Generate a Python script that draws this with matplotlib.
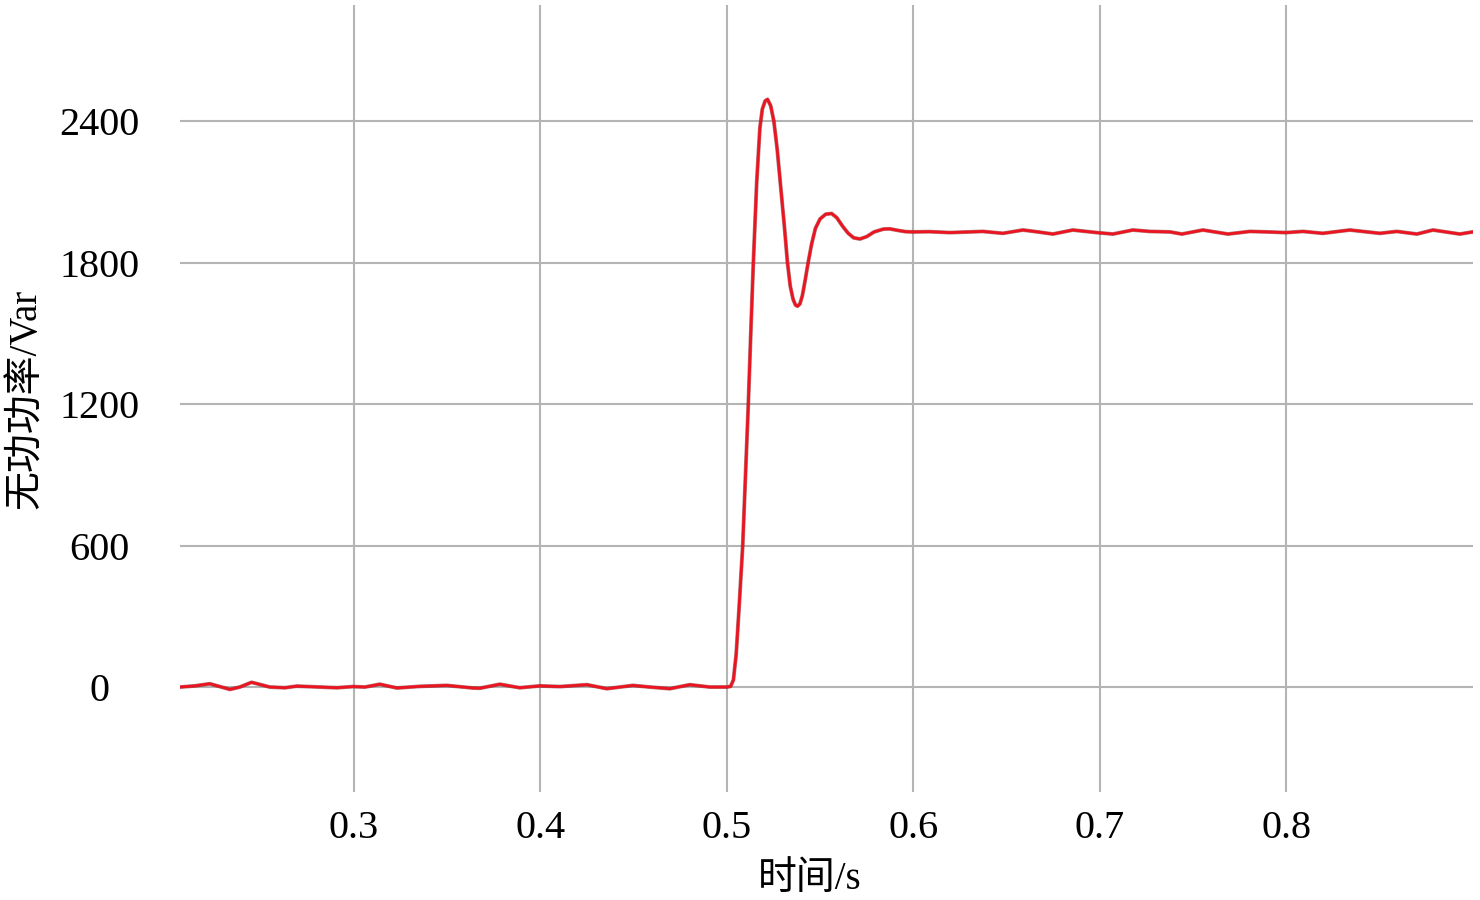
import matplotlib
matplotlib.use('Agg')
import matplotlib.pyplot as plt

plt.rcParams['font.family'] = ['Liberation Serif', 'Noto Sans CJK SC']

# 时间 (s) 与 无功功率 (Var)
t_before = [0.2066, 0.2146, 0.2226, 0.2280, 0.2334, 0.2387, 0.2450, 0.2505,
            0.2548, 0.2629, 0.2693, 0.2816, 0.2908, 0.2994, 0.3058, 0.3138,
            0.3230, 0.3353, 0.3498, 0.3637, 0.3675, 0.3782, 0.3889, 0.3997,
            0.4104, 0.4249, 0.4356, 0.4496, 0.4587, 0.4694, 0.4801, 0.4909]
q_before = [0, 5, 14, 2, -10, 0, 20, 9,
            0, -3, 4, 0, -3, 2, 0, 12,
            -4, 3, 7, -4, -5, 12, -3, 5,
            2, 10, -7, 7, 0, -7, 10, 0]

t_step = [0.5000, 0.5020, 0.5035, 0.5050, 0.5065, 0.5085, 0.5100, 0.5115,
          0.5130, 0.5142, 0.5160, 0.5177, 0.5190, 0.5205, 0.5218, 0.5235,
          0.5252, 0.5270, 0.5290, 0.5310, 0.5325, 0.5340, 0.5355, 0.5368,
          0.5379, 0.5392, 0.5405, 0.5420, 0.5436, 0.5455, 0.5475, 0.5500,
          0.5530, 0.5562, 0.5590, 0.5620, 0.5650, 0.5680, 0.5714, 0.5750,
          0.5790, 0.5840, 0.5874, 0.5920, 0.5960]
q_step = [0, 3, 30, 140, 330, 600, 900, 1200,
          1540, 1800, 2140, 2370, 2450, 2485, 2492, 2465,
          2400, 2280, 2110, 1940, 1800, 1700, 1645, 1620,
          1615, 1625, 1660, 1725, 1800, 1880, 1945, 1985,
          2005, 2008, 1990, 1955, 1925, 1905, 1900, 1910,
          1930, 1942, 1943, 1936, 1931]

t_after = [0.5998, 0.6089, 0.6196, 0.6373, 0.6481, 0.6588, 0.6668, 0.6749,
           0.6856, 0.6985, 0.7071, 0.7178, 0.7269, 0.7377, 0.7441, 0.7554,
           0.7688, 0.7806, 0.7897, 0.7999, 0.8090, 0.8197, 0.8342, 0.8503,
           0.8594, 0.8702, 0.8788, 0.8932, 0.9002]
q_after = [1930, 1931, 1927, 1932, 1924, 1938, 1930, 1921,
           1938, 1927, 1921, 1938, 1932, 1930, 1921, 1938,
           1921, 1932, 1930, 1927, 1932, 1924, 1938, 1924,
           1932, 1921, 1938, 1921, 1930]

t = t_before + t_step + t_after
q = q_before + q_step + q_after

x_ticks = [0.3, 0.4, 0.5, 0.6, 0.7, 0.8]
y_ticks = [0, 600, 1200, 1800, 2400]

fig = plt.figure(figsize=(14.8, 9), dpi=100)
ax = fig.add_axes([0.1216, 0.12, 0.8737, 0.8744])

# 曲线：深色底线 + 红色主线
ax.plot(t, q, color='#7a1a1a', linewidth=2.8, alpha=0.55, solid_capstyle='round')
ax.plot(t, q, color='#ec1420', linewidth=2.0, solid_capstyle='round')

ax.set_xlim(0.2066, 0.9003)
ax.set_ylim(-445, 2892)
ax.set_xticks(x_ticks)
ax.set_yticks(y_ticks)
ax.set_xticklabels([f'{v:.1f}' for v in x_ticks])
ax.set_yticklabels([str(v) for v in y_ticks])

ax.grid(True, color='#b4b4b4', linewidth=1.5)
ax.set_axisbelow(True)
for s in ax.spines.values():
    s.set_visible(False)

ax.tick_params(axis='both', length=0, labelsize=29)
ax.tick_params(axis='x', pad=13)
ax.tick_params(axis='y', pad=58)
for lab in ax.get_yticklabels():
    lab.set_horizontalalignment('center')

ax.set_xlabel('时间/s', fontsize=28)
ax.xaxis.set_label_coords(0.487, -0.088)
ax.set_ylabel('无功功率/Var', fontsize=28)
ax.yaxis.set_label_coords(-0.104, 0.5)

fig.savefig('out.png', dpi=100, facecolor='white')
